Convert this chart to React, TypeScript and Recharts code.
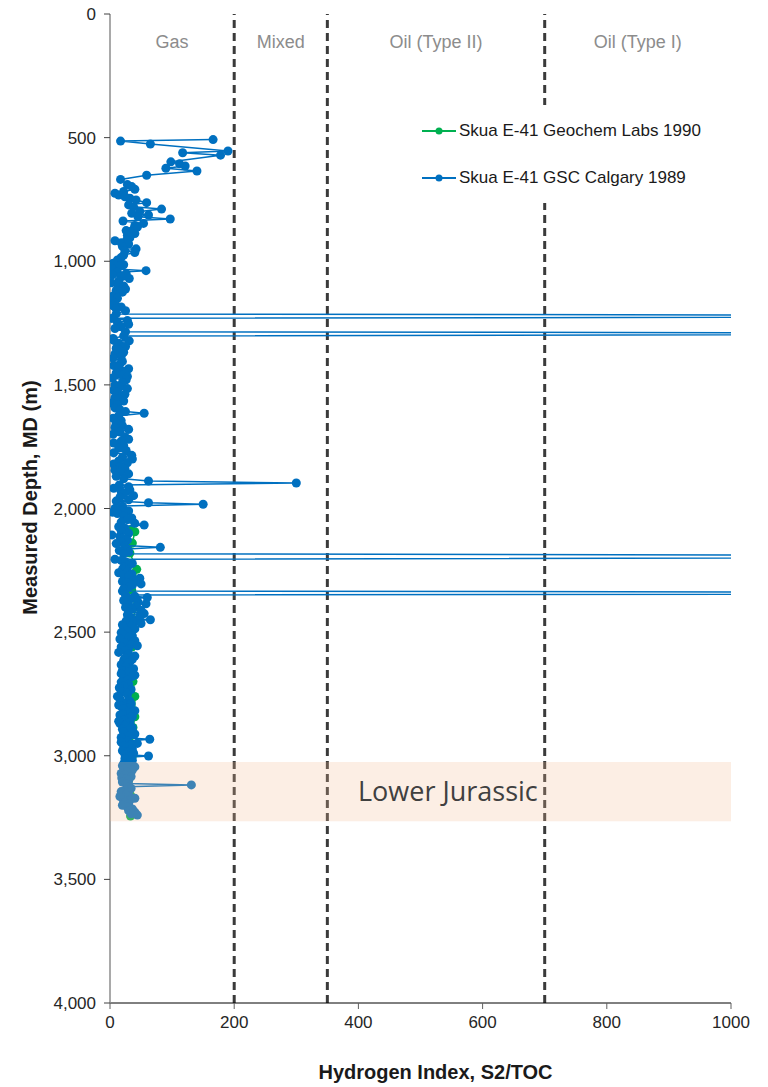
import React from 'react';
import { ScatterChart, Scatter, XAxis, YAxis, ReferenceLine, ReferenceArea, Legend, Label } from 'recharts';

const BLUE = '#0070c0';
const GREEN = '#00b050';
const FONT = '"Liberation Sans", Arial, sans-serif';

// Skua E-41 GSC Calgary 1989 : [measured depth (m), hydrogen index]
const gscSamples: [number, number][] = [
  [508, 166], [514, 17], [526, 65], [554, 190], [561, 117], [571, 178], [598, 98], [606, 112], [615, 121], [624, 90],
  [635, 140], [652, 59], [669, 17], [690, 28], [698, 35], [709, 40], [718, 22], [725, 8], [732, 14], [739, 24],
  [745, 32], [752, 42], [763, 59], [772, 30], [780, 38], [789, 83], [799, 48], [806, 35], [813, 62], [820, 45],
  [829, 97], [837, 21], [847, 54], [855, 40], [862, 44], [870, 38], [876, 26], [880, 33], [888, 40], [895, 28],
  [905, 32], [914, 27], [917, 8], [925, 18], [930, 30], [940, 20], [950, 42], [958, 24], [965, 40], [975, 22],
  [985, 18], [995, 12], [1008, 5], [1014, 22], [1020, 15], [1030, 3], [1038, 58], [1045, 12], [1050, 26], [1055, 4],
  [1062, 18], [1070, 31], [1080, 14], [1087, 2], [1093, 12], [1100, 22], [1112, 25], [1118, 10], [1125, 20], [1135, 8],
  [1142, 4], [1150, 12], [1160, 2], [1170, 8], [1180, 5], [1185, 18], [1192, 10], [1200, 25], [1213, 10], [1222, 2100],
  [1231, 3], [1240, 28], [1248, 12], [1255, 30], [1265, 18], [1272, 8], [1285, 25], [1293, 2100], [1302, 22], [1312, 5],
  [1320, 6], [1322, 31], [1332, 14], [1345, 25], [1352, 10], [1360, 15], [1368, 22], [1375, 8], [1385, 18], [1392, 5],
  [1405, 20], [1415, 16], [1422, 6], [1428, 14], [1435, 30], [1445, 22], [1452, 10], [1460, 20], [1466, 28], [1472, 4],
  [1480, 26], [1490, 20], [1500, 8], [1508, 16], [1515, 28], [1522, 6], [1530, 12], [1538, 24], [1545, 20], [1552, 8],
  [1558, 14], [1565, 22], [1573, 2], [1580, 12], [1593, 8], [1600, 16], [1608, 25], [1615, 55], [1625, 14], [1635, 5],
  [1645, 18], [1655, 10], [1665, 20], [1672, 8], [1680, 30], [1690, 16], [1700, 5], [1710, 24], [1720, 30], [1728, 18],
  [1735, 6], [1745, 22], [1755, 14], [1765, 26], [1775, 6], [1785, 35], [1792, 20], [1800, 36], [1808, 14], [1815, 28],
  [1820, 6], [1830, 16], [1838, 24], [1845, 8], [1850, 18], [1860, 30], [1870, 10], [1880, 22], [1889, 62], [1897, 300],
  [1905, 15], [1912, 30], [1918, 6], [1925, 32], [1932, 18], [1940, 22], [1948, 38], [1955, 16], [1965, 30], [1970, 10],
  [1977, 62], [1983, 150], [1990, 20], [2000, 8], [2005, 22], [2010, 30], [2015, 4], [2020, 12], [2030, 22], [2038, 35],
  [2045, 28], [2055, 18], [2060, 40], [2067, 55], [2074, 14], [2080, 24], [2090, 18], [2100, 30], [2107, 3], [2113, 16],
  [2120, 20], [2128, 28], [2135, 18], [2142, 10], [2150, 24], [2157, 81], [2164, 28], [2170, 15], [2176, 30], [2183, 22],
  [2195, 2300], [2205, 8], [2210, 18], [2215, 25], [2222, 36], [2230, 30], [2238, 22], [2246, 20], [2255, 28], [2260, 14],
  [2265, 35], [2270, 22], [2275, 30], [2282, 48], [2290, 42], [2295, 20], [2300, 27], [2305, 50], [2310, 36], [2318, 30],
  [2325, 22], [2334, 20], [2342, 2300], [2350, 25], [2355, 40], [2360, 60], [2366, 32], [2372, 22], [2378, 45], [2385, 58],
  [2390, 30], [2395, 42], [2400, 25], [2405, 35], [2412, 50], [2418, 30], [2425, 55], [2430, 28], [2438, 48], [2444, 34],
  [2450, 65], [2455, 26], [2460, 38], [2465, 50], [2470, 20], [2475, 35], [2480, 22], [2487, 40], [2495, 28], [2502, 18],
  [2510, 22], [2515, 36], [2520, 30], [2528, 16], [2535, 40], [2542, 24], [2550, 34], [2555, 44], [2560, 18], [2568, 30],
  [2575, 25], [2582, 14], [2590, 30], [2597, 40], [2605, 24], [2610, 36], [2615, 22], [2620, 32], [2625, 28], [2632, 18],
  [2640, 26], [2648, 38], [2655, 20], [2662, 30], [2668, 18], [2674, 40], [2680, 35], [2688, 22], [2695, 28], [2702, 18],
  [2710, 30], [2718, 22], [2725, 15], [2732, 34], [2740, 18], [2745, 28], [2752, 28], [2760, 12], [2770, 16], [2775, 30],
  [2780, 32], [2785, 20], [2790, 34], [2795, 14], [2800, 18], [2806, 30], [2812, 22], [2818, 40], [2825, 28], [2830, 20],
  [2835, 16], [2842, 36], [2850, 30], [2855, 22], [2860, 14], [2865, 32], [2870, 16], [2875, 26], [2880, 24], [2887, 36],
  [2893, 20], [2898, 30], [2905, 22], [2912, 40], [2920, 30], [2926, 18], [2933, 64], [2940, 28], [2945, 18], [2950, 44],
  [2955, 34], [2960, 22], [2965, 28], [2972, 36], [2980, 20], [2985, 30], [2990, 38], [2995, 24], [3001, 62], [3006, 30],
  [3012, 24], [3018, 36], [3025, 30], [3032, 22], [3040, 20], [3045, 40], [3048, 28], [3052, 22], [3058, 36], [3065, 28],
  [3072, 18], [3078, 24], [3084, 34], [3090, 19], [3095, 26], [3100, 30], [3106, 20], [3112, 26], [3118, 131], [3125, 28],
  [3132, 34], [3140, 24], [3145, 18], [3150, 30], [3158, 26], [3165, 16], [3172, 40], [3180, 32], [3185, 22], [3190, 24],
  [3195, 30], [3200, 20], [3208, 28], [3215, 36], [3222, 30], [3228, 40], [3235, 34], [3240, 44],
];

// Skua E-41 Geochem Labs 1990 : [measured depth (m), hydrogen index]
const labsSamples: [number, number][] = [
  [2085, 34], [2094, 40], [2140, 36], [2180, 32], [2246, 43], [2290, 40], [2330, 35], [2400, 40], [2450, 38], [2500, 35],
  [2560, 35], [2597, 29], [2650, 32], [2700, 37], [2760, 40], [2842, 40], [2886, 37], [2950, 34], [3003, 36], [3060, 30],
  [3100, 30], [3160, 33], [3244, 33],
];

const seriesNames = ['Skua E-41 Geochem Labs 1990', 'Skua E-41 GSC Calgary 1989'];
const xTicks = [0, 200, 400, 600, 800, 1000];
const yTicks = [0, 500, 1000, 1500, 2000, 2500, 3000, 3500, 4000];
const zoneNames = ['Gas', 'Mixed', 'Oil (Type II)', 'Oil (Type I)'];
const zoneEdges = [0, 200, 350, 700, 1000];
const zoneLabelBand = [0, 226];
const jurassic = { name: 'Lower Jurassic', top: 3025, base: 3265 };

const gscData = gscSamples.map(([d, h]) => ({ depth: d, hi: h }));
const labsData = labsSamples.map(([d, h]) => ({ depth: d, hi: h }));

const LegendContent = (props: any) => {
  const payload = [...(props.payload || [])].sort(
    (a: any, b: any) => seriesNames.indexOf(a.value) - seriesNames.indexOf(b.value)
  );
  return (
    <div style={{ position: 'relative', width: 320, height: 98, background: '#fff' }}>
      {payload.map((p: any, i: number) => (
        <div key={i} style={{ position: 'absolute', left: 12, top: 26 + i * 47 - 10, height: 20, display: 'flex', alignItems: 'center' }}>
          <svg width={34} height={10} style={{ display: 'block' }}>
            <line x1={0} x2={34} y1={5} y2={5} stroke={p.color} strokeWidth={2} />
            <circle cx={17} cy={5} r={3.5} fill={p.color} />
          </svg>
          <span style={{ marginLeft: 3, fontSize: 17, fontFamily: FONT, color: '#1a1a1a', whiteSpace: 'nowrap' }}>{p.value}</span>
        </div>
      ))}
    </div>
  );
};

export default function App() {
  return (
    <div style={{ marginTop: -8 }}>
      <ScatterChart width={752} height={1087} margin={{ top: 14, right: 29, bottom: 0, left: 0 }}>
        <XAxis
          type="number"
          dataKey="hi"
          domain={[0, 1000]}
          ticks={xTicks}
          interval={0}
          allowDataOverflow
          tickSize={6}
          tickMargin={7}
          height={84}
          axisLine={{ stroke: '#000', strokeWidth: 1 }}
          tickLine={{ stroke: '#606060' }}
          tick={{ fill: '#262626', fontSize: 17, fontFamily: FONT }}
        >
          <Label
            content={(p: any) => {
              const vb = p.viewBox;
              return (
                <text x={vb.x + vb.width / 2 + 15} y={vb.y + 76} textAnchor="middle" fontSize={20} fontWeight="bold" fontFamily={FONT} fill="#1a1a1a">
                  Hydrogen Index, S2/TOC
                </text>
              );
            }}
          />
        </XAxis>
        <YAxis
          type="number"
          dataKey="depth"
          reversed
          domain={[0, 4000]}
          ticks={yTicks}
          interval={0}
          allowDataOverflow
          width={102}
          tickSize={6}
          tickMargin={8}
          tickFormatter={(v: number) => v.toLocaleString('en-US')}
          axisLine={{ stroke: '#8c8c8c', strokeWidth: 1.5 }}
          tickLine={{ stroke: '#404040' }}
          tick={{ fill: '#262626', fontSize: 17, fontFamily: FONT }}
        >
          <Label
            content={(p: any) => {
              const vb = p.viewBox;
              const cx = vb.x + 29;
              const cy = vb.y + vb.height / 2 - 11;
              return (
                <text x={cx} y={cy} transform={`rotate(-90 ${cx} ${cy})`} textAnchor="middle" fontSize={20} fontWeight="bold" fontFamily={FONT} fill="#1a1a1a">
                  Measured Depth, MD (m)
                </text>
              );
            }}
          />
        </YAxis>
        {zoneNames.map((z, i) => (
          <ReferenceArea
            key={z}
            x1={zoneEdges[i]}
            x2={zoneEdges[i + 1]}
            y1={zoneLabelBand[0]}
            y2={zoneLabelBand[1]}
            fill="none"
            stroke="none"
            label={{ value: z, position: 'center', fill: '#8c8c8c', fontSize: 18, fontFamily: FONT }}
          />
        ))}
        {zoneEdges.slice(1, 4).map((x) => (
          <ReferenceLine key={x} x={x} stroke="#3a3a3a" strokeWidth={3} strokeDasharray="8 5" />
        ))}
        <Scatter
          name={seriesNames[0]}
          data={labsData}
          fill={GREEN}
          line={{ stroke: GREEN, strokeWidth: 1.5 }}
          lineJointType="linear"
          isAnimationActive={false}
        />
        <Scatter
          name={seriesNames[1]}
          data={gscData}
          fill={BLUE}
          line={{ stroke: BLUE, strokeWidth: 1.5 }}
          lineJointType="linear"
          isAnimationActive={false}
        />
        <ReferenceArea
          x1={0}
          x2={1000}
          y1={jurassic.top}
          y2={jurassic.base}
          fill="rgb(244,188,148)"
          fillOpacity={0.25}
          stroke="none"
          zIndex={700}
          label={{ value: jurassic.name, position: 'insideLeft', offset: 248, fill: '#404040', fontSize: 27, fontFamily: '"Open Sans", sans-serif' }}
        />
        <Legend
          layout="vertical"
          align="center"
          verticalAlign="middle"
          wrapperStyle={{ position: 'absolute', left: 402, top: 105, width: 320, height: 98 }}
          content={<LegendContent />}
        />
      </ScatterChart>
    </div>
  );
}
